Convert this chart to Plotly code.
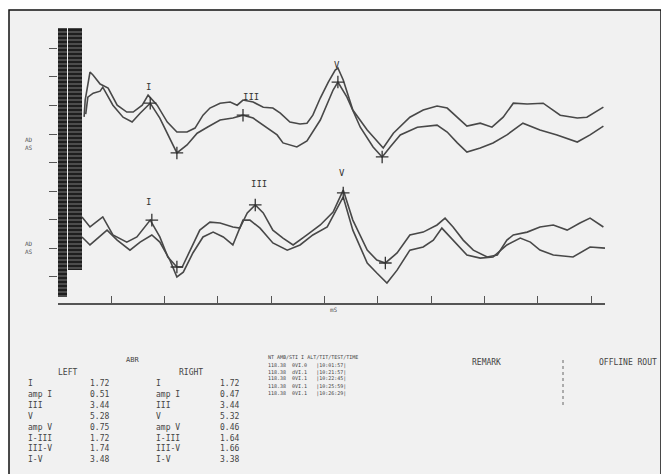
import plotly.graph_objects as go

# ---------------- data (time in ms, amplitude in arbitrary units) ----------------
top_a_t = [0.49, 0.51, 0.60, 0.66, 0.79, 0.84, 0.94, 1.11, 1.29, 1.41, 1.58, 1.69, 1.86, 2.05, 2.23, 2.42, 2.57,
           2.72, 2.85, 3.04, 3.23, 3.36, 3.47, 3.66, 3.85, 4.03, 4.17, 4.35, 4.54, 4.67, 4.78, 4.92, 5.07,
           5.20, 5.25, 5.35, 5.53, 5.80, 6.10, 6.29, 6.60, 6.85, 7.11, 7.30, 7.49, 7.67, 7.92, 8.14, 8.35,
           8.54, 8.80, 9.10, 9.42, 9.74, 9.92, 10.23]
top_a_v = [5.60, 6.19, 7.17, 7.06, 6.75, 6.71, 6.61, 6.01, 5.77, 5.77, 6.01, 6.36, 6.01, 5.42, 5.07, 5.07, 5.21,
           5.66, 5.91, 6.08, 6.12, 6.01, 6.19, 6.12, 5.94, 5.91, 5.73, 5.42, 5.35, 5.38, 5.66, 6.26, 6.82,
           7.24, 7.31, 6.89, 5.84, 5.14, 4.51, 5.03, 5.59, 5.84, 5.98, 5.91, 5.59, 5.28, 5.38, 5.24, 5.59,
           6.08, 6.05, 6.08, 5.66, 5.56, 5.59, 5.94]

top_b_t = [0.52, 0.56, 0.66, 0.79, 0.84, 1.03, 1.22, 1.39, 1.54, 1.73, 1.91, 2.06, 2.23, 2.42, 2.61, 2.80, 3.04,
           3.28, 3.47, 3.66, 3.92, 4.11, 4.22, 4.48, 4.67, 4.92, 5.16, 5.25, 5.42, 5.67, 5.91, 6.08, 6.23,
           6.42, 6.74, 7.11, 7.30, 7.49, 7.67, 7.92, 8.16, 8.42, 8.72, 9.04, 9.36, 9.74, 9.98, 10.23]
top_b_v = [5.70, 6.29, 6.43, 6.50, 6.64, 6.01, 5.59, 5.42, 5.73, 6.08, 5.56, 4.97, 4.34, 4.62, 5.03, 5.24, 5.49,
           5.56, 5.66, 5.56, 5.21, 4.97, 4.69, 4.55, 4.76, 5.49, 6.54, 6.82, 6.29, 5.24, 4.55, 4.20, 4.55,
           4.97, 5.24, 5.31, 5.07, 4.69, 4.37, 4.51, 4.69, 4.97, 5.38, 5.14, 4.97, 4.72, 4.97, 5.28]

bot_a_t = [0.45, 0.60, 0.84, 1.03, 1.29, 1.48, 1.73, 1.91, 2.06, 2.23, 2.33, 2.48, 2.66, 2.85, 3.04, 3.28, 3.41,
           3.55, 3.70, 3.85, 4.03, 4.22, 4.41, 4.67, 4.92, 5.16, 5.35, 5.53, 5.80, 5.98, 6.14, 6.36, 6.60,
           6.85, 7.11, 7.26, 7.41, 7.60, 7.79, 8.05, 8.24, 8.42, 8.54, 8.80, 9.04, 9.29, 9.55, 9.79, 9.98, 10.23]
bot_a_v = [2.10, 1.75, 2.10, 1.47, 1.22, 1.40, 1.99, 1.40, 0.70, 0.35, 0.35, 0.94, 1.64, 1.92, 1.89, 1.75, 1.71,
           2.24, 2.52, 2.24, 1.64, 1.36, 1.12, 1.47, 1.82, 2.27, 3.04, 1.99, 0.94, 0.59, 0.49, 0.84, 1.47,
           1.57, 1.82, 2.06, 1.75, 1.29, 0.94, 0.70, 0.77, 1.29, 1.47, 1.57, 1.75, 1.82, 1.64, 1.89, 2.06, 1.75]

bot_b_t = [0.45, 0.60, 0.92, 1.11, 1.35, 1.54, 1.76, 1.91, 2.10, 2.23, 2.35, 2.53, 2.72, 2.91, 3.10, 3.28, 3.47,
           3.60, 3.79, 4.03, 4.30, 4.54, 4.78, 5.05, 5.29, 5.35, 5.53, 5.80, 5.98, 6.17, 6.36, 6.60, 6.85,
           7.04, 7.20, 7.41, 7.67, 7.92, 8.16, 8.42, 8.67, 8.86, 9.04, 9.29, 9.66, 9.98, 10.26]
bot_b_v = [1.40, 1.12, 1.64, 1.29, 0.94, 1.22, 1.47, 1.22, 0.59, 0.00, 0.17, 0.84, 1.40, 1.57, 1.40, 1.12, 1.99,
           1.99, 1.71, 1.19, 0.94, 1.12, 1.47, 1.75, 2.59, 2.80, 1.64, 0.49, 0.14, -0.21, 0.24, 0.94, 1.05,
           1.29, 1.71, 1.29, 0.77, 0.66, 0.70, 1.12, 1.36, 1.22, 0.94, 0.77, 0.70, 1.05, 1.01]

# peak cursor marks (+)
top_mark_t = [1.73, 2.23, 3.47, 5.25, 6.08]
top_mark_v = [6.08, 4.34, 5.66, 6.82, 4.20]
bot_mark_t = [1.76, 2.23, 3.70, 5.35, 6.14]
bot_mark_v = [1.99, 0.35, 2.52, 2.94, 0.49]

# wave labels
wave_lbl = ["I", "III", "V", "I", "III", "V"]
wave_lbl_t = [1.69, 3.62, 5.23, 1.69, 3.77, 5.33]
wave_lbl_v = [6.66, 6.29, 7.40, 2.62, 3.25, 3.64]

# stimulus artefact block
art_x = [0.085, 0.32]
art_w = [0.17, 0.26]
art_base = [-0.70, 0.24]
art_h = [9.41, 8.47]

y_ticks = [0, 1, 2, 3, 4, 5, 6, 7, 8]
x_ticks = [1, 2, 3, 4, 5, 6, 7, 8, 9, 10]

# result table
row_names = ["I", "amp I", "III", "V", "amp V", "I-III", "III-V", "I-V"]
left_vals = ["1.72", "0.51", "3.44", "5.28", "0.75", "1.72", "1.74", "3.48"]
right_vals = ["1.72", "0.47", "3.44", "5.32", "0.46", "1.64", "1.66", "3.38"]
mid_header = "NT AMB/STI I ALT/TIT/TEST/TIME"
mid_rows = ["118.38  0VI.0   |10:01:57|",
            "118.38  dVI.1   |10:21:57|",
            "118.38  0VI.1   |10:22:45|",
            "118.38  0VI.1   |10:25:59|",
            "118.38  0VI.1   |10:26:29|"]

# ---------------- figure ----------------
OFF = 8                      # page body margin of the html
W, H = 669 - OFF, 474 - OFF
PL, PR, PT, PB = 58, 605, 10, 303     # plot box in window pixels
L, R, T, B = PL - OFF, W - (PR - OFF), PT - OFF, H - (PB - OFF)
PW, PH = W - L - R, H - T - B


def px(x):
    return (x - PL) / PW


def py(y):
    return (PB - y) / PH


ink = "#484848"
fig = go.Figure()

fig.add_trace(go.Bar(x=art_x, y=art_h, base=art_base, width=art_w,
                     marker=dict(color="#1e1e1e", line=dict(width=0),
                                 pattern=dict(shape="-", fgcolor="#d8d8d8", bgcolor="#1e1e1e",
                                              size=4, solidity=0.25)),
                     hoverinfo="skip", showlegend=False))

for t, v in [(top_a_t, top_a_v), (top_b_t, top_b_v), (bot_a_t, bot_a_v), (bot_b_t, bot_b_v)]:
    fig.add_trace(go.Scatter(x=t, y=v, mode="lines", line=dict(color=ink, width=1.6),
                             showlegend=False, hoverinfo="skip"))

fig.add_trace(go.Scatter(x=top_mark_t + bot_mark_t, y=top_mark_v + bot_mark_v, mode="markers",
                         marker=dict(symbol="cross-thin", size=9, line=dict(color="#333", width=1.3)),
                         showlegend=False, hoverinfo="skip"))

for s, t, v in zip(wave_lbl, wave_lbl_t, wave_lbl_v):
    fig.add_annotation(x=t, y=v, text=s, showarrow=False, xref="x", yref="y",
                       font=dict(family="DejaVu Sans Mono", size=9, color="#333"))

shapes = [
    dict(type="rect", xref="paper", yref="paper", x0=px(9), x1=px(661), y0=py(490), y1=py(10),
         fillcolor="#f1f1f1", line=dict(color="#111", width=1.5), layer="below"),
    dict(type="line", xref="paper", yref="paper", x0=px(563), x1=px(563), y0=py(360), y1=py(407),
         line=dict(color="#666", width=1, dash="dot")),
]

fs = dict(family="DejaVu Sans Mono", size=8, color="#444")
fsm = dict(family="DejaVu Sans Mono", size=6, color="#555")
fxs = dict(family="DejaVu Sans Mono", size=5, color="#444")


def txt(x, y, s, anchor="left", font=fs):
    fig.add_annotation(x=px(x), y=py(y), xref="paper", yref="paper", text=s, showarrow=False,
                       xanchor=anchor, yanchor="middle", font=font)


# side labels
txt(29, 143, "AD<br>AS", "center", fsm)
txt(29, 247, "AD<br>AS", "center", fsm)
txt(334, 309, "mS", "center", fsm)

# table
txt(132, 360, "ABR", "center", dict(family="DejaVu Sans Mono", size=7, color="#444"))
txt(67, 372, "LEFT", "center")
txt(191, 372, "RIGHT", "center")
for i, (n, lv, rv) in enumerate(zip(row_names, left_vals, right_vals)):
    yy = 384 + i * 10.8
    txt(26, yy, n)
    txt(111, yy, lv, "right")
    txt(154, yy, n)
    txt(241, yy, rv, "right")

txt(266, 357, mid_header, "left", fxs)
for i, r in enumerate(mid_rows):
    txt(266, 365 + i * 7.0, r, "left", fxs)
txt(486, 362, "REMARK", "center")
txt(597, 362, "OFFLINE ROUT", "left")

fig.update_layout(
    width=W, height=H, margin=dict(l=L, r=R, t=T, b=B),
    paper_bgcolor="white", plot_bgcolor="rgba(0,0,0,0)",
    shapes=shapes, bargap=0, showlegend=False,
    xaxis=dict(range=[0, 10.26], tickvals=x_ticks, ticks="inside", ticklen=7, tickcolor="#555",
               tickwidth=1.2, showticklabels=False, showline=True, linecolor="#555", linewidth=1.6,
               showgrid=False, zeroline=False, fixedrange=True),
    yaxis=dict(range=[-0.91, 9.34], tickvals=y_ticks, ticks="outside", ticklen=8, tickcolor="#555",
               tickwidth=1.2, showticklabels=False, showline=False, showgrid=False, zeroline=False,
               fixedrange=True),
)

fig.write_html("out.html")
